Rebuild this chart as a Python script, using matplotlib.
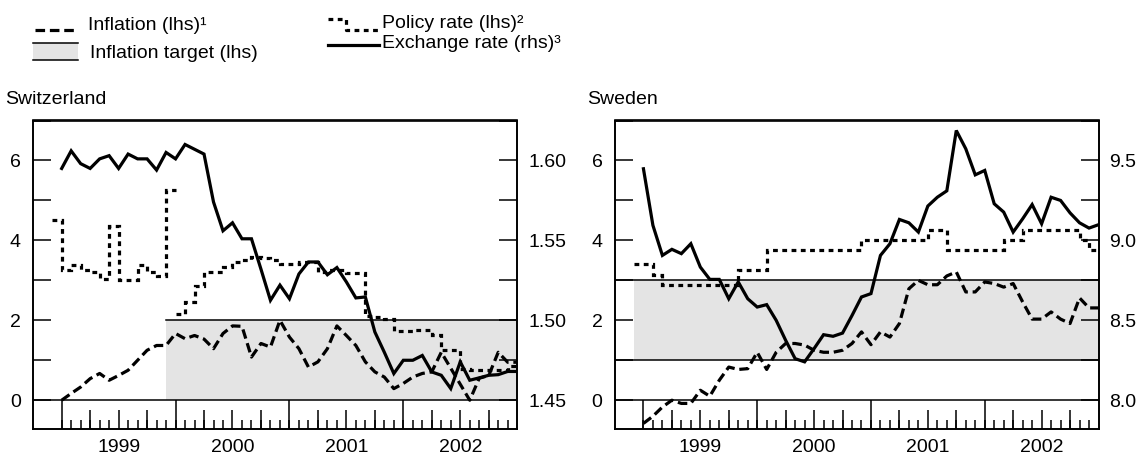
import numpy as np
import matplotlib.pyplot as plt
from matplotlib.lines import Line2D
from matplotlib.patches import Rectangle
from matplotlib.ticker import FixedLocator, FixedFormatter, FormatStrFormatter

plt.rcParams['font.family'] = ['Liberation Sans', 'DejaVu Sans']
plt.rcParams['font.size'] = 14

# monthly data, first point Jan 1999
years = [1999, 2000, 2001, 2002]

ch_inflation = [0.0, 0.17, 0.33, 0.54, 0.67, 0.5, 0.62, 0.75, 1.0, 1.25, 1.37, 1.37,
                1.67, 1.54, 1.62, 1.53, 1.29, 1.67, 1.86, 1.85, 1.08, 1.42, 1.33, 2.0,
                1.58, 1.29, 0.83, 0.96, 1.29, 1.86, 1.62, 1.37, 0.96, 0.71, 0.58, 0.29,
                0.42, 0.58, 0.67, 0.71, 1.2, 0.8, 0.4, 0.0, 0.55, 0.62, 1.2, 0.95,
                0.95]
ch_fx = [1.595, 1.606, 1.598, 1.595, 1.601, 1.603, 1.595, 1.604, 1.601, 1.601, 1.594, 1.605,
         1.601, 1.610, 1.607, 1.604, 1.574, 1.556, 1.561, 1.551, 1.551, 1.532, 1.5125, 1.522,
         1.5135, 1.529, 1.5365, 1.5365, 1.5285, 1.533, 1.524, 1.514, 1.5146, 1.4927, 1.480, 1.4667,
         1.475, 1.475, 1.478, 1.4677, 1.4656, 1.4573, 1.474, 1.4625, 1.464, 1.4656, 1.466, 1.468,
         1.468]
# policy rate, monthly steps: Dec 1998 - Dec 1999, then Jan 2000 - Dec 2002
ch_policy_99 = [4.5, 3.27, 3.39, 3.27, 3.2, 3.04, 4.37, 3.0, 3.0, 3.39, 3.2, 3.12, 5.25]
ch_policy = [2.15, 2.45, 2.85, 3.2, 3.2, 3.33, 3.46, 3.5, 3.58, 3.55, 3.5, 3.4,
             3.42, 3.46, 3.46, 3.21, 3.25, 3.25, 3.19, 3.19, 2.12, 2.08, 2.04, 1.72,
             1.72, 1.75, 1.75, 1.62, 1.25, 1.25, 0.79, 0.75, 0.75, 0.75, 0.75, 0.85]
ch_target = (0.0, 2.0)
ch_target_start = 1999 + 11 / 12

se_inflation = [-0.58, -0.4, -0.17, 0.0, -0.08, -0.08, 0.25, 0.1, 0.5, 0.83, 0.77, 0.79,
                1.2, 0.77, 1.2, 1.42, 1.42, 1.38, 1.25, 1.2, 1.2, 1.25, 1.42, 1.71,
                1.39, 1.71, 1.58, 1.92, 2.79, 3.0, 2.89, 2.89, 3.11, 3.21, 2.71, 2.71,
                2.96, 2.92, 2.83, 2.92, 2.46, 2.03, 2.03, 2.21, 2.03, 1.92, 2.56, 2.31,
                2.31]
se_fx = [9.448, 9.094, 8.906, 8.944, 8.917, 8.979, 8.833, 8.756, 8.756, 8.635, 8.74, 8.635,
         8.583, 8.598, 8.5, 8.375, 8.26, 8.24, 8.323, 8.41, 8.4, 8.42, 8.53, 8.646,
         8.667, 8.906, 8.979, 9.131, 9.11, 9.052, 9.215, 9.27, 9.31, 9.6875, 9.573, 9.41,
         9.4375, 9.229, 9.177, 9.052, 9.135, 9.224, 9.104, 9.27, 9.25, 9.172, 9.11, 9.077,
         9.098]
# repo rate, monthly steps Dec 1998 - Dec 2002
se_policy = [3.42, 3.42, 3.14, 2.89, 2.89, 2.89, 2.89, 2.89, 2.89, 2.89, 2.89, 3.25, 3.25,
             3.25, 3.75, 3.75, 3.75, 3.75, 3.75, 3.75, 3.75, 3.75, 3.75, 3.75, 4.0,
             4.0, 4.0, 4.0, 4.0, 4.0, 4.0, 4.27, 4.27, 3.75, 3.75, 3.75, 3.75,
             3.75, 3.75, 4.0, 4.0, 4.25, 4.25, 4.25, 4.25, 4.25, 4.25, 4.0, 3.75]
se_target = (1.0, 3.0)
se_target_start = 1998 + 11 / 12

W, H = 1141, 459
YLO, YHI = -0.72, 7.0
XLO, XHI = 1998.75, 2003.0
LW = 2.3
DASH = (0, (3.0, 1.5))
DOT = (0, (1.5, 1.4))


def box(l, t, r, b):
    return [l / W, 1 - b / H, (r - l) / W, (b - t) / H]


def months(start, n):
    return start + np.arange(n) / 12


fig = plt.figure(figsize=(W / 100, H / 100), dpi=100)


def panel(rect, title, infl, fx, policy_parts, target, t_start, full_target_lines,
          r_base, r_step, r_ticks, r_fmt):
    ax = fig.add_axes(box(*rect))
    ax.set_xlim(XLO, XHI)
    ax.set_ylim(YLO, YHI)

    ax.fill_between([t_start, XHI], target[0], target[1], color='#e4e4e4', lw=0, zorder=0)
    if full_target_lines:
        for v in target:
            ax.axhline(v, color='k', lw=1.1, zorder=1)
    else:
        ax.plot([t_start, XHI], [target[1], target[1]], color='k', lw=1.1, zorder=1)
    ax.axhline(0, color='k', lw=1.1, zorder=1)

    ax.plot(months(1999, len(infl)), infl, color='k', lw=LW, ls=DASH, zorder=3)
    for start, vals in policy_parts:
        edges = months(start, len(vals) + 1)
        ax.stairs(vals, edges, baseline=None, color='k', lw=LW, ls=DOT, zorder=3)

    ax2 = ax.twinx()
    ax2.set_ylim(r_base + r_step * YLO, r_base + r_step * YHI)
    ax2.plot(months(1999, len(fx)), fx, color='k', lw=LW, solid_joinstyle='miter', zorder=4)

    for a in (ax, ax2):
        for s in a.spines.values():
            s.set_linewidth(1.2)

    # y ticks
    ax.yaxis.set_major_locator(FixedLocator([0, 2, 4, 6]))
    ax.yaxis.set_minor_locator(FixedLocator([1, 3, 5, 7]))
    ax.tick_params(axis='y', which='both', direction='in', length=13, width=1.1, pad=9,
                   labelsize=14)
    ax2.yaxis.set_major_locator(FixedLocator(r_ticks))
    ax2.yaxis.set_minor_locator(FixedLocator([t + r_step for t in r_ticks]))
    ax2.yaxis.set_major_formatter(FormatStrFormatter(r_fmt))
    ax2.tick_params(axis='y', which='both', direction='in', length=13, width=1.1, pad=8,
                    labelsize=14)

    # x ticks: year labels at mid-year, monthly / quarterly / yearly marks
    h_in = box(*rect)[3] * H / 100
    full = (0 - YLO) / (YHI - YLO) * h_in * 72
    ax.xaxis.set_major_locator(FixedLocator([y + 0.5 for y in years]))
    ax.xaxis.set_major_formatter(FixedFormatter([str(y) for y in years]))
    ax.xaxis.set_minor_locator(FixedLocator(months(1999, 48)))
    ax.tick_params(axis='x', which='major', length=0, pad=7, labelsize=14)
    ax.tick_params(axis='x', which='minor', direction='in', length=full * 0.32, width=1.1)

    sec_y = ax.secondary_xaxis('bottom')
    sec_y.set_ticks(list(years))
    sec_y.tick_params(direction='in', length=full, width=1.1, labelbottom=False)
    sec_y.spines['bottom'].set_visible(False)

    quarters = [y + q / 4 for y in years for q in (1, 2, 3)]
    sec_q = ax.secondary_xaxis('bottom')
    sec_q.set_ticks(quarters)
    sec_q.tick_params(direction='in', length=full * 0.65, width=1.1, labelbottom=False)
    sec_q.spines['bottom'].set_visible(False)

    fig.text((rect[0] - 28) / W, 1 - 100 / H, title, va='center', ha='left', fontsize=14)


panel((33.2, 120.5, 517.2, 429), 'Switzerland', ch_inflation, ch_fx,
      [(1998 + 11 / 12, ch_policy_99), (2000, ch_policy)],
      ch_target, ch_target_start, False, 1.45, 0.025, [1.45, 1.50, 1.55, 1.60], '%.2f')
panel((615, 120.5, 1098.5, 429), 'Sweden', se_inflation, se_fx,
      [(1998 + 11 / 12, se_policy)],
      se_target, se_target_start, True, 8.0, 0.25, [8.0, 8.5, 9.0, 9.5], '%.1f')


# legend, drawn in figure pixels
def fx_(x):
    return x / W


def fy_(y):
    return 1 - y / H


fig.add_artist(Line2D([fx_(35), fx_(78)], [fy_(30), fy_(30)], color='k', lw=LW, ls=DASH))
fig.text(fx_(88), fy_(26), 'Inflation (lhs)\u00b9', va='center', fontsize=14)
fig.add_artist(Rectangle((fx_(33), fy_(60)), fx_(78) - fx_(33), fy_(43) - fy_(60),
                         facecolor='#e4e4e4', edgecolor='none', transform=fig.transFigure))
for yy in (43, 60):
    fig.add_artist(Line2D([fx_(33), fx_(78)], [fy_(yy), fy_(yy)], color='k', lw=1.1))
fig.text(fx_(90), fy_(53), 'Inflation target (lhs)', va='center', fontsize=14)

fig.add_artist(Line2D([fx_(328), fx_(346), fx_(346), fx_(379)],
                      [fy_(19), fy_(19), fy_(30), fy_(30)], color='k', lw=LW, ls=DOT))
fig.text(fx_(382), fy_(23), 'Policy rate (lhs)\u00b2', va='center', fontsize=14)
fig.add_artist(Line2D([fx_(328), fx_(379)], [fy_(45), fy_(45)], color='k', lw=LW))
fig.text(fx_(382), fy_(43), 'Exchange rate (rhs)\u00b3', va='center', fontsize=14)

fig.savefig('out.png', dpi=100)
